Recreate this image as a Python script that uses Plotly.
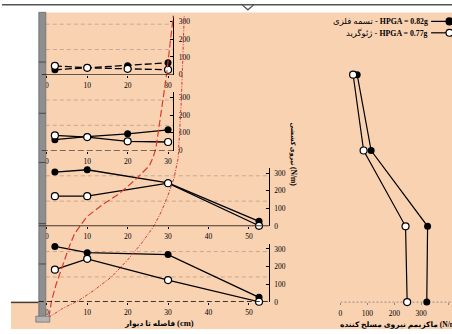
import plotly.graph_objects as go

W, H = 452, 334

# ---------------- data ----------------
dist_upper = [2, 10, 20, 30]          # cm, layers 1-2
dist_lower = [2, 10, 30, 52.5]        # cm, layers 3-4
layer_height = [57, 38, 19, 0]        # cm above base (layer 1 = top)

steel_force = [                        # تسمه فلزی  (N/m)
    [28, 39, 50, 67],
    [61, 78, 94, 117],
    [306, 319, 245, 28],
    [314, 279, 268, 27],
]
geogrid_force = [                      # ژئوگرید (N/m)
    [50, 39, 33, 28],
    [85, 76, 52, 48],
    [170, 170, 243, 3],
    [183, 244, 124, 2],
]
steel_max = [62, 114, 324, 321]
geogrid_max = [47, 86, 242, 248]

# failure surfaces (distance cm, height cm)
surf_a_x = [0.5, 1.2, 2.2, 3.7, 5.4, 6.9, 9.9, 14.0, 17.7, 21.7, 25.4, 26.4, 27.0, 29.6, 31.3]
surf_a_h = [-3.8, 0.4, 4.1, 8.5, 13.5, 17.2, 21.4, 24.6, 27.0, 30.5, 34.2, 36.6, 38.6, 56.8, 71.8]
surf_b_x = [0.5, 3.9, 7.9, 11.6, 16.0, 20.2, 23.4, 26.4, 28.3, 30.0, 31.5, 32.5, 33.3, 34.0]
surf_b_h = [-3.8, -1.6, 0.4, 2.9, 6.3, 10.8, 14.7, 18.9, 22.6, 26.8, 31.2, 36.1, 50.9, 71.8]

force_ticks = [0, 100, 200, 300]
dist_ticks_upper = [0, 10, 20, 30]
dist_ticks_lower = [0, 10, 20, 30, 40, 50]
max_ticks = [0, 100, 200, 300, 400]

legend_steel = ("تسمه فلزی", "HPGA = 0.82g")
legend_geo = ("ژئوگرید", "HPGA = 0.77g")
title_dist = ("فاصله تا دیوار", "(cm)")
title_force = ("نیروی کششی", "(N/m)")
title_max = "ماکزیمم نیروی مسلح کننده (N/m)"

# ---------------- layout helpers ----------------
def fx(p):
    return p / W

def fy(p):
    return 1 - p / H

SX, X0 = 4.06, 45.0      # px per cm, px of 0 cm
SH, Y0 = 4.05, 306.7     # px per cm height, px of base
SF = 0.18                # px per N/m in small panels
RX0, RS = 340.0, 0.27    # right panel
FMAX = 330

SERIF = "Liberation Serif, DejaVu Sans, serif"
PEACH = "#F9D2B2"

fig = go.Figure()
layout = dict(
    width=W, height=H, margin=dict(l=0, r=0, t=0, b=0),
    paper_bgcolor="white", plot_bgcolor="rgba(0,0,0,0)",
    showlegend=False, font=dict(family=SERIF, color="black"),
)
shapes = []
annotations = []

# backgrounds
shapes.append(dict(type="rect", xref="paper", yref="paper", x0=fx(44), x1=1, y0=0, y1=fy(12.7),
                   fillcolor=PEACH, line=dict(width=0), layer="below"))
shapes.append(dict(type="rect", xref="paper", yref="paper", x0=fx(9), x1=fx(44), y0=0, y1=fy(307),
                   fillcolor=PEACH, line=dict(width=0), layer="below"))
shapes.append(dict(type="line", xref="paper", yref="paper", x0=fx(9), x1=fx(37), y0=fy(307), y1=fy(307),
                   line=dict(color="#4a3a30", width=1.5)))
# top border with notch
shapes.append(dict(type="line", xref="paper", yref="paper", x0=0, x1=1, y0=fy(4.7), y1=fy(4.7),
                   line=dict(color="#555555", width=1.5)))
shapes.append(dict(type="path", xref="paper", yref="paper",
                   path=f"M {fx(241)},{fy(4.7)} L {fx(247)},{fy(10)} L {fx(253)},{fy(4.7)}",
                   line=dict(color="#555555", width=1.3)))
# wall + footing
shapes.append(dict(type="rect", xref="paper", yref="paper", x0=fx(37), x1=fx(44), y0=fy(322), y1=fy(12.5),
                   fillcolor="#8e8e8e", line=dict(color="#6a6a6a", width=0.8)))
shapes.append(dict(type="rect", xref="paper", yref="paper", x0=fx(34), x1=fx(48), y0=fy(327), y1=fy(321),
                   fillcolor="#b4b4b4", line=dict(color="#707070", width=0.8)))
for j in [63, 115, 165, 227, 268]:
    shapes.append(dict(type="line", xref="paper", yref="paper", x0=fx(37), x1=fx(44), y0=fy(j), y1=fy(j),
                       line=dict(color="#4a4a4a", width=1)))

grid_vals = [285, 142]
base_styles = [
    dict(x0=40, color="black", width=1, dash="solid"),
    dict(x0=40, color="black", width=1.2, dash="6px,3px"),
    dict(x0=37, color="#4a3428", width=2.2, dash="solid"),
    dict(x0=37, color="black", width=1.5, dash="5px,3px"),
]

for i in range(4):
    k = "" if i == 0 else str(i + 1)
    base_py = Y0 - layer_height[i] * SH
    top_py = base_py - FMAX * SF
    right_px = 172 if i < 2 else 268
    xt = dist_ticks_upper if i < 2 else dist_ticks_lower
    layout["xaxis" + k] = dict(
        domain=[fx(43), fx(right_px)], range=[(43 - X0) / SX, (right_px - X0) / SX],
        anchor="y" + k, showline=False, showgrid=False, zeroline=False,
        tickvals=xt, ticks="outside", ticklen=2, tickcolor="black",
        tickfont=dict(size=7.5, family=SERIF), ticklabelstandoff=1,
    )
    layout["yaxis" + k] = dict(
        domain=[fy(base_py), fy(top_py)], range=[0, FMAX], anchor="x" + k, side="right",
        showline=True, linecolor="black", linewidth=1, showgrid=False, zeroline=False,
        tickvals=force_ticks, ticks="inside", ticklen=3, tickcolor="black",
        tickfont=dict(size=7.5, family=SERIF), ticklabelstandoff=3,
    )
    for g in grid_vals:
        shapes.append(dict(type="line", xref="paper", yref="y" + k, x0=fx(44), x1=fx(right_px), y0=g, y1=g,
                           line=dict(color="rgba(140,115,100,0.55)", width=0.8, dash="4px,3px"), layer="below"))
    bs = base_styles[i]
    shapes.append(dict(type="line", xref="paper", yref="y" + k, x0=fx(bs["x0"]), x1=fx(right_px), y0=0, y1=0,
                       line=dict(color=bs["color"], width=bs["width"], dash=bs["dash"])))
    xs = dist_upper if i < 2 else dist_lower
    dash = "7px,3px" if i == 0 else "solid"
    fig.add_trace(go.Scatter(x=xs, y=steel_force[i], xaxis="x" + k, yaxis="y" + k, mode="lines+markers",
                             line=dict(color="black", width=1.3, dash=dash),
                             marker=dict(size=7, color="black"), cliponaxis=False))
    fig.add_trace(go.Scatter(x=xs, y=geogrid_force[i], xaxis="x" + k, yaxis="y" + k, mode="lines+markers",
                             line=dict(color="black", width=1.3, dash=dash),
                             marker=dict(size=7, color="white", line=dict(color="black", width=1.2)),
                             cliponaxis=False))

# overlay axes (whole figure, cm units)
layout["xaxis5"] = dict(domain=[0, 1], range=[-X0 / SX, (W - X0) / SX], anchor="y5", visible=False)
layout["yaxis5"] = dict(domain=[0, 1], range=[(Y0 - H) / SH, Y0 / SH], anchor="x5", visible=False)
fig.add_trace(go.Scatter(x=surf_a_x, y=surf_a_h, xaxis="x5", yaxis="y5", mode="lines",
                         line=dict(color="#dd3a2e", width=1.2, dash="7px,3px"), cliponaxis=False))
fig.add_trace(go.Scatter(x=surf_b_x, y=surf_b_h, xaxis="x5", yaxis="y5", mode="lines",
                         line=dict(color="#cf3a36", width=1, dash="3px,1.5px,1px,1.5px"), cliponaxis=False))

# right panel
layout["xaxis6"] = dict(domain=[fx(RX0), 1], range=[0, (W - RX0) / RS], anchor="free", position=fy(Y0),
                        showline=False, showgrid=False, zeroline=False, tickvals=max_ticks,
                        ticks="outside", ticklen=2, tickcolor="#888888",
                        tickfont=dict(size=7.5, family=SERIF), ticklabelstandoff=2)
shapes.append(dict(type="line", xref="x6", yref="y5", x0=0, x1=(W - RX0) / RS, y0=0, y1=0,
                   line=dict(color="#9a8a80", width=1, dash="2px,2px"), layer="below"))
fig.add_trace(go.Scatter(x=steel_max, y=layer_height, xaxis="x6", yaxis="y5", mode="lines+markers",
                         line=dict(color="black", width=1.2), marker=dict(size=7, color="black"),
                         cliponaxis=False))
fig.add_trace(go.Scatter(x=geogrid_max, y=layer_height, xaxis="x6", yaxis="y5", mode="lines+markers",
                         line=dict(color="black", width=1.2),
                         marker=dict(size=7, color="white", line=dict(color="black", width=1.2)),
                         cliponaxis=False))

# legend (drawn manually: symbol to the right of text)
for row_py, (fa, en), fill in [(21.7, legend_steel, "black"), (33.3, legend_geo, "white")]:
    shapes.append(dict(type="line", xref="paper", yref="paper", x0=fx(431), x1=fx(447), y0=fy(row_py),
                       y1=fy(row_py), line=dict(color="black", width=1.2)))
    shapes.append(dict(type="circle", xref="paper", yref="paper", x0=fx(446), x1=fx(453),
                       y0=fy(row_py + 3.5), y1=fy(row_py - 3.5), fillcolor=fill,
                       line=dict(color="black", width=1.2)))
    txt = fa + ' - <span style="font-size:7.8px"><b>' + en + "</b></span>"
    annotations.append(dict(text=txt, xref="paper", yref="paper", x=fx(430), y=fy(row_py),
                            xanchor="right", yanchor="middle", showarrow=False,
                            font=dict(size=8.5, family=SERIF)))

annotations.append(dict(text="<b>" + title_dist[0] + ' <span style="font-size:8.5px">' + title_dist[1] + "</span></b>",
                        xref="paper", yref="paper", x=fx(157.5), y=fy(328),
                        xanchor="center", yanchor="middle", showarrow=False, font=dict(size=7.5, family=SERIF)))
annotations.append(dict(text="<b>" + title_force[0] + ' <span style="font-size:7.5px">' + title_force[1] + "</span></b>",
                        xref="paper", yref="paper", x=fx(292.5), y=fy(157),
                        xanchor="center", yanchor="middle", showarrow=False, textangle=90,
                        font=dict(size=6.3, family=SERIF)))
annotations.append(dict(text="<b>" + title_max + "</b>", xref="paper", yref="paper", x=fx(337), y=fy(329),
                        xanchor="left", yanchor="middle", showarrow=False, font=dict(size=7.5, family=SERIF)))

layout["shapes"] = shapes
layout["annotations"] = annotations
fig.update_layout(**layout)
fig.write_html("out.html", config={"displayModeBar": False},
               post_script="document.body.style.margin='0';")
